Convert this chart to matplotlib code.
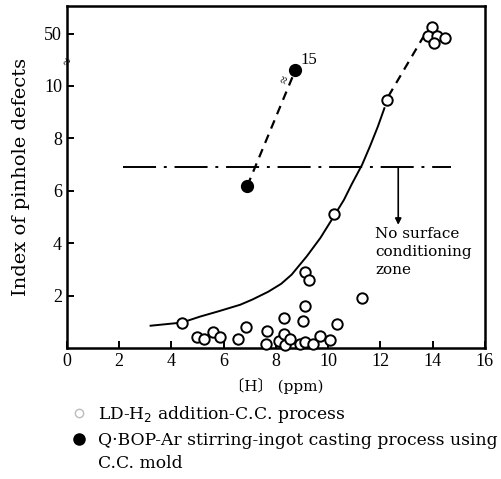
import numpy as np
import matplotlib
matplotlib.use('Agg')
import matplotlib.pyplot as plt
from matplotlib.lines import Line2D

plt.rcParams['font.family'] = ['Liberation Serif', 'DejaVu Serif', 'Noto Sans CJK JP']
wide = ['DejaVu Serif', 'Noto Sans CJK JP']

# LD-H2 addition, C.C. process (open circles)
ld_h = [4.4, 4.97, 5.25, 5.6, 5.86, 6.56, 6.86, 7.6, 7.65, 8.1, 8.31, 8.32, 8.36,
        8.54, 8.93, 9.05, 9.12, 9.12, 9.12, 9.27, 9.4, 9.69, 10.08, 10.24, 10.33,
        11.29, 12.26, 13.98, 13.82, 14.16, 14.48, 14.03]
ld_idx = [0.97, 0.41, 0.33, 0.62, 0.43, 0.33, 0.82, 0.15, 0.65, 0.27, 1.13, 0.53, 0.11,
          0.34, 0.14, 1.04, 0.22, 1.6, 2.91, 2.6, 0.15, 0.46, 0.31, 5.1, 0.9,
          1.92, 9.45, 52.3, 49.2, 49.2, 48.2, 46.4]

# Q-BOP Ar stirring, ingot casting (filled)
qb_h = [6.9, 8.74]
qb_idx = [6.18, 15]

# trend curve
trend_h = [3.2, 4.4, 5.1, 5.8, 6.63, 7.1, 7.71, 8.2, 8.6, 9.18, 9.7, 10.2,
           10.6, 10.9, 11.3, 11.6, 11.9, 12.15]
trend_idx = [0.85, 0.97, 1.2, 1.4, 1.65, 1.85, 2.15, 2.45, 2.8, 3.5, 4.2, 5.0,
             5.65, 6.25, 7.0, 7.7, 8.45, 9.15]
trend_ext_h = [12.3, 13.64]
trend_ext_idx = [9.6, 48.7]

limit_h = [2.15, 14.7]
limit_idx = 6.9

ytick_vals = [2, 4, 6, 8, 10, 50]
xtick_vals = [0, 2, 4, 6, 8, 10, 12, 14, 16]


# broken y axis: linear up to 10, squeezed between, 50 sits just above
def fwd(v):
    v = np.asarray(v, dtype=float)
    return np.where(v <= 10, v,
           np.where(v <= 17.5, 10 + (v - 10) * 0.12,
           np.where(v <= 40, 10.9 + (v - 17.5) * (0.1 / 22.5),
                    12 + (v - 50) * 0.1)))


def inv(p):
    p = np.asarray(p, dtype=float)
    return np.where(p <= 10, p,
           np.where(p <= 10.9, 10 + (p - 10) / 0.12,
           np.where(p <= 11.0, 17.5 + (p - 10.9) * 225,
                    50 + (p - 12) * 10)))


fig = plt.figure(figsize=(5.01, 4.79), dpi=100)
ax = fig.add_axes([0.1337, 0.2735, 0.8343, 0.714])
ax.set_yscale('function', functions=(fwd, inv))
ax.set_xlim(0, 16)
ax.set_ylim(0, 60.5)

ax.plot(trend_h, trend_idx, color='black', lw=1.4)
ax.plot(trend_ext_h, trend_ext_idx, color='black', lw=1.6, dashes=(4, 3))
ax.plot(qb_h, qb_idx, color='black', lw=1.6, dashes=(4, 3))
ax.plot(limit_h, [limit_idx, limit_idx], color='black', lw=1.4,
        dashes=(17, 4, 1.5, 4))

ax.plot(ld_h, ld_idx, 'o', ms=7.5, mfc='white', mec='black', mew=1.4,
        clip_on=False, zorder=5)
ax.plot(qb_h, qb_idx, 'o', ms=8.5, color='black', clip_on=False, zorder=5)

ax.text(8.95, 15.6, '15', fontsize=12, va='bottom', ha='left')
ax.text(8.35, 11.9, '≈', fontsize=10, rotation=70, ha='center', va='center',
        zorder=6)
ax.text(0.05, 17.5, '≈', fontsize=10, rotation=70, ha='center', va='center',
        zorder=6)

ax.annotate('', xy=(12.68, 4.7), xytext=(12.68, limit_idx),
            arrowprops=dict(arrowstyle='-|>', color='black', lw=1.2,
                            mutation_scale=9, shrinkA=0, shrinkB=0))
ax.text(11.8, 4.62, 'No surface\nconditioning\nzone', fontsize=11,
        family=wide, va='top', ha='left', linespacing=1.35)

ax.set_xticks(xtick_vals)
ax.set_xticklabels([str(t) for t in xtick_vals])
ax.set_yticks(ytick_vals)
ax.set_yticklabels([str(t) for t in ytick_vals])
ax.yaxis.set_minor_locator(plt.NullLocator())
ax.tick_params(direction='in', length=5, width=1.4, labelsize=13)
for s in ax.spines.values():
    s.set_linewidth(1.8)

ax.set_xlabel('〔H〕 (ppm)', fontsize=11, family=wide, labelpad=6)
ax.set_ylabel('Index of pinhole defects', fontsize=14, family=wide, labelpad=10)

handles = [
    Line2D([], [], ls='none', marker='o', ms=6, mfc='white', mec='#bbbbbb', mew=1),
    Line2D([], [], ls='none', marker='o', ms=8, color='black'),
    Line2D([], [], ls='none'),
]
labels = ['LD-H$_2$ addition-C.C. process',
          'Q·BOP-Ar stirring-ingot casting process using',
          'C.C. mold']
fig.legend(handles, labels, loc='upper left', bbox_to_anchor=(0.125, 0.175),
           frameon=False, prop={'family': wide, 'size': 12.3},
           handlelength=0.9, handletextpad=0.7, labelspacing=0.4, borderpad=0)

fig.savefig('out.png', dpi=100)
